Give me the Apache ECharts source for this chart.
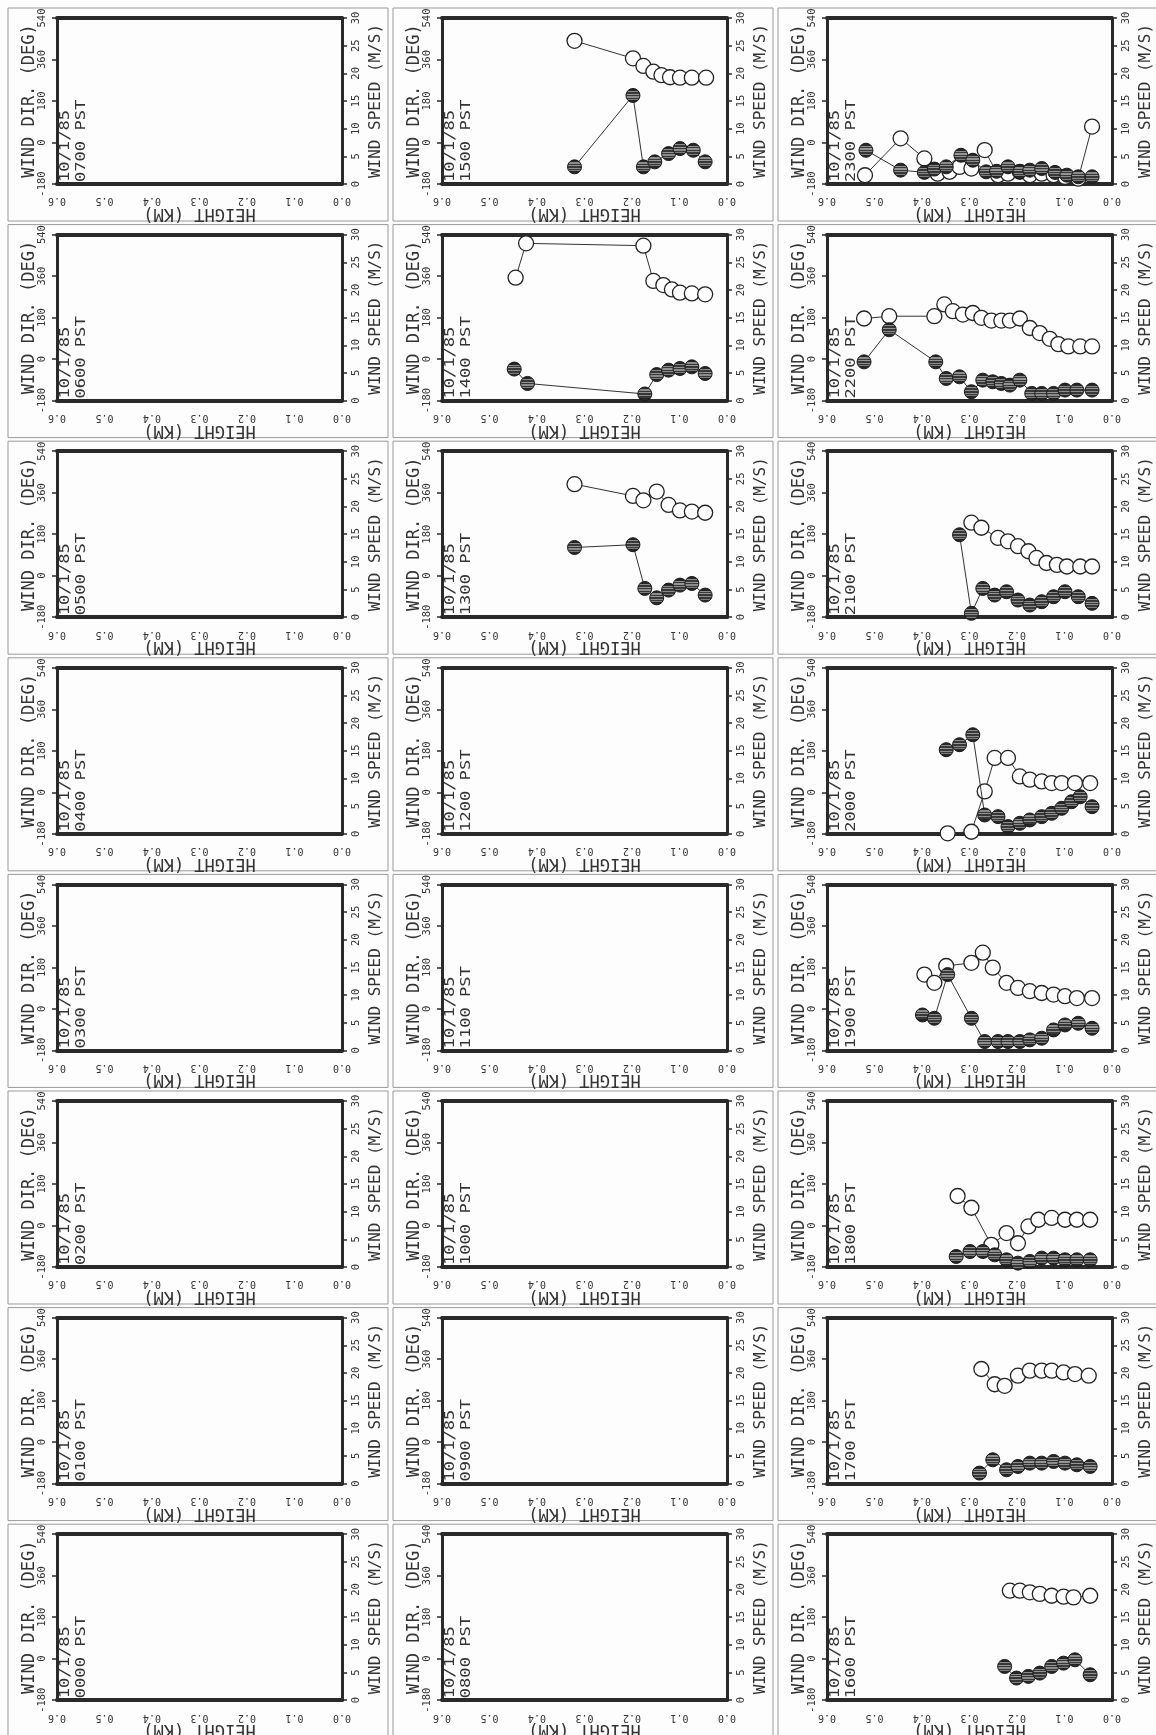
<!DOCTYPE html>
<html><head><meta charset="utf-8">
<script src="https://cdn.jsdelivr.net/npm/echarts@6/dist/echarts.min.js"></script>
<style>html,body{margin:0;padding:0;background:#fdfdfd}#c{width:1156px;height:1735px}</style>
</head><body><div id="c"></div>
<script>
// ---- data: [height km, value] ----
const panelTimes = [
  ['0700','0600','0500','0400','0300','0200','0100','0000'],
  ['1500','1400','1300','1200','1100','1000','0900','0800'],
  ['2300','2200','2100','2000','1900','1800','1700','1600']
];
const dateLabel = '10/1/85';
const heightTicks = [0, 0.1, 0.2, 0.3, 0.4, 0.5, 0.6];
const dirTicks = [-180, 0, 180, 360, 540];
const speedTicks = [0, 5, 10, 15, 20, 25, 30];

const dir_1300 = [[0.321,397],[0.198,346],[0.176,327],[0.148,365],[0.123,307],[0.099,283],[0.074,278],[0.046,273]];
const spd_1300 = [[0.321,12.6],[0.198,13.1],[0.173,5.2],[0.148,3.5],[0.123,4.9],[0.099,5.8],[0.074,6.1],[0.046,4.0]];
const dir_1400 = [[0.445,353],[0.423,502],[0.176,492],[0.155,339],[0.134,321],[0.116,302],[0.099,288],[0.074,285],[0.046,281]];
const spd_1400 = [[0.448,5.7],[0.420,3.1],[0.173,1.2],[0.148,4.7],[0.123,5.5],[0.099,5.8],[0.074,6.1],[0.046,4.9]];
const dir_1500 = [[0.321,441],[0.198,365],[0.176,332],[0.155,307],[0.138,292],[0.120,283],[0.099,281],[0.074,281],[0.044,281]];
const spd_1500 = [[0.321,3.1],[0.198,16.0],[0.176,3.1],[0.152,4.0],[0.123,5.5],[0.099,6.4],[0.071,6.1],[0.046,4.0]];
const dir_1600 = [[0.215,295],[0.194,295],[0.173,288],[0.152,281],[0.127,273],[0.102,269],[0.081,266],[0.046,273]];
const spd_1600 = [[0.226,6.1],[0.201,4.0],[0.176,4.3],[0.152,4.9],[0.127,6.1],[0.102,6.7],[0.078,7.3],[0.046,4.6]];
const dir_1700 = [[0.275,317],[0.247,251],[0.226,244],[0.198,288],[0.173,310],[0.148,310],[0.127,310],[0.102,302],[0.078,295],[0.049,288]];
const spd_1700 = [[0.279,1.9],[0.251,4.3],[0.222,2.5],[0.198,3.1],[0.173,3.7],[0.148,3.7],[0.123,4.0],[0.099,3.7],[0.074,3.4],[0.046,3.1]];
const dir_1800 = [[0.325,128],[0.296,77],[0.254,-84],[0.222,-33],[0.198,-77],[0.176,-4],[0.155,25],[0.127,33],[0.099,25],[0.074,25],[0.046,25]];
const spd_1800 = [[0.328,1.9],[0.299,2.8],[0.272,2.8],[0.247,2.2],[0.222,1.3],[0.198,0.7],[0.173,1.0],[0.148,1.6],[0.123,1.6],[0.099,1.3],[0.074,1.3],[0.046,1.3]];
const dir_1900 = [[0.395,149],[0.374,113],[0.349,186],[0.296,200],[0.272,244],[0.251,179],[0.222,113],[0.198,91],[0.173,77],[0.148,69],[0.123,62],[0.099,55],[0.074,47],[0.042,47]];
const spd_1900 = [[0.399,6.4],[0.374,5.8],[0.346,13.7],[0.296,5.8],[0.268,1.6],[0.240,1.6],[0.219,1.6],[0.194,1.6],[0.173,1.9],[0.148,2.2],[0.123,3.7],[0.099,4.6],[0.071,4.9],[0.042,4.0]];
const dir_2000 = [[0.346,-178],[0.296,-171],[0.268,4],[0.247,149],[0.219,149],[0.194,69],[0.173,55],[0.148,47],[0.127,40],[0.106,40],[0.078,40],[0.046,40]];
const spd_2000 = [[0.349,15.2],[0.321,16.1],[0.293,17.9],[0.268,3.4],[0.240,3.1],[0.219,1.3],[0.194,1.9],[0.173,2.5],[0.148,3.1],[0.127,3.7],[0.106,4.6],[0.085,5.8],[0.067,6.7],[0.042,4.9]];
const dir_2100 = [[0.296,230],[0.275,208],[0.240,164],[0.219,149],[0.198,128],[0.176,106],[0.159,77],[0.138,55],[0.116,47],[0.095,40],[0.067,40],[0.042,40]];
const spd_2100 = [[0.321,14.9],[0.296,0.7],[0.272,5.2],[0.247,4.0],[0.222,4.6],[0.198,3.1],[0.173,2.2],[0.148,2.8],[0.123,3.7],[0.099,4.6],[0.071,3.7],[0.042,2.5]];
const dir_2200 = [[0.522,176],[0.469,186],[0.374,186],[0.353,237],[0.335,208],[0.314,193],[0.293,200],[0.275,179],[0.254,167],[0.233,167],[0.215,167],[0.194,176],[0.173,135],[0.152,113],[0.131,88],[0.113,65],[0.092,55],[0.067,55],[0.042,55]];
const spd_2200 = [[0.522,7.0],[0.469,12.8],[0.371,7.0],[0.349,4.0],[0.321,4.3],[0.296,1.6],[0.272,3.7],[0.251,3.4],[0.233,3.1],[0.215,2.8],[0.194,3.7],[0.169,1.3],[0.148,1.3],[0.123,1.3],[0.099,1.9],[0.074,1.9],[0.042,1.9]];
const dir_2300 = [[0.520,-142],[0.445,18],[0.395,-69],[0.367,-135],[0.342,-127],[0.321,-106],[0.296,-113],[0.268,-33],[0.240,-142],[0.219,-135],[0.194,-127],[0.173,-142],[0.148,-135],[0.123,-142],[0.099,-149],[0.071,-157],[0.042,69]];
const spd_2300 = [[0.518,6.1],[0.445,2.5],[0.395,2.1],[0.374,2.7],[0.349,3.1],[0.318,5.2],[0.293,4.3],[0.265,2.2],[0.243,2.3],[0.219,3.1],[0.194,2.2],[0.173,2.5],[0.148,2.8],[0.120,2.1],[0.095,1.6],[0.071,1.3],[0.042,1.3]];

const profiles = {
  '1300':[dir_1300,spd_1300],'1400':[dir_1400,spd_1400],'1500':[dir_1500,spd_1500],
  '1600':[dir_1600,spd_1600],'1700':[dir_1700,spd_1700],'1800':[dir_1800,spd_1800],
  '1900':[dir_1900,spd_1900],'2000':[dir_2000,spd_2000],'2100':[dir_2100,spd_2100],
  '2200':[dir_2200,spd_2200],'2300':[dir_2300,spd_2300]
};

// ---- layout ----
const COL_X = 385, ROW_Y = 216.6, PL = 57, PT = 18, PW = 285, PH = 166;
const FONT = 'DejaVu Sans Mono';
const INK = '#2a2a2a';

const stripe = {type:'linear',x:0,y:0,x2:0,y2:1,colorStops:[
  {offset:0,color:'#262626'},{offset:0.2,color:'#262626'},{offset:0.2,color:'#8c8c8c'},{offset:0.28,color:'#8c8c8c'},
  {offset:0.28,color:'#383838'},{offset:0.38,color:'#383838'},{offset:0.38,color:'#959595'},{offset:0.46,color:'#959595'},
  {offset:0.46,color:'#383838'},{offset:0.56,color:'#383838'},{offset:0.56,color:'#8c8c8c'},{offset:0.64,color:'#8c8c8c'},
  {offset:0.64,color:'#383838'},{offset:0.74,color:'#383838'},{offset:0.74,color:'#7c7c7c'},{offset:0.8,color:'#7c7c7c'},
  {offset:0.8,color:'#262626'},{offset:1,color:'#262626'}]};

const grid=[], xAxis=[], yAxis=[], series=[], graphic=[];
let k = 0;
for (let c = 0; c < 3; c++) {
  for (let r = 0; r < 8; r++) {
    const t = panelTimes[c][r];
    const gl = PL + COL_X*c, gt = PT + ROW_Y*r;
    grid.push({left: gl, top: gt, width: PW, height: PH, outerBoundsMode:'none', containLabel:false});
    xAxis.push({type:'value', gridIndex:k, position:'bottom', min:heightTicks[0], max:heightTicks[heightTicks.length-1], interval:0.1, inverse:true,
      axisLine:{show:true, onZero:false, lineStyle:{color:INK, width:4}}, axisTick:{show:false}, splitLine:{show:false},
      axisLabel:{rotate:180, margin:12, fontSize:10, fontFamily:FONT, color:'#333', formatter:v=>v.toFixed(1)},
      name:'HEIGHT (KM)', nameLocation:'middle', nameRotate:180, nameGap:21, nameMoveOverlap:false,
      nameTextStyle:{fontSize:17, fontFamily:FONT, color:'#333'}});
    xAxis.push({type:'value', gridIndex:k, position:'top', min:0, max:0.6, inverse:true,
      axisLine:{show:true, onZero:false, lineStyle:{color:INK, width:4}}, axisTick:{show:false}, axisLabel:{show:false}, splitLine:{show:false}});
    yAxis.push({type:'value', gridIndex:k, position:'left', min:dirTicks[0], max:dirTicks[dirTicks.length-1], interval:180,
      axisLine:{show:true, onZero:false, lineStyle:{color:INK, width:3}}, axisTick:{show:true, length:5, lineStyle:{color:INK, width:1.5}}, splitLine:{show:false},
      axisLabel:{rotate:90, margin:9, fontSize:10.5, fontFamily:FONT, color:'#333'},
      name:'WIND DIR. (DEG)', nameLocation:'middle', nameGap:19, nameMoveOverlap:false,
      nameTextStyle:{fontSize:17, fontFamily:FONT, color:'#333'}});
    yAxis.push({type:'value', gridIndex:k, position:'right', min:speedTicks[0], max:speedTicks[speedTicks.length-1], interval:5,
      axisLine:{show:true, onZero:false, lineStyle:{color:INK, width:3}}, axisTick:{show:true, length:5, lineStyle:{color:INK, width:1.5}}, splitLine:{show:false},
      axisLabel:{rotate:90, margin:9, fontSize:10.5, fontFamily:FONT, color:'#333'},
      name:'WIND SPEED (M/S)', nameLocation:'middle', nameGap:26, nameMoveOverlap:false,
      nameTextStyle:{fontSize:16, fontFamily:FONT, color:'#333'}});
    const p = profiles[t];
    if (p) {
      series.push({type:'line', xAxisIndex:2*k, yAxisIndex:2*k, data:p[0], symbol:'circle', symbolSize:15, showAllSymbol:true,
        itemStyle:{color:'#fff', borderColor:'#222', borderWidth:1.3}, lineStyle:{color:'#333', width:1}, z:2, silent:true, animation:false});
      series.push({type:'line', xAxisIndex:2*k, yAxisIndex:2*k+1, data:p[1], symbol:'circle', symbolSize:14, showAllSymbol:true,
        itemStyle:{color:stripe, borderColor:'#1a1a1a', borderWidth:1}, lineStyle:{color:'#333', width:1}, z:3, silent:true, animation:false});
    }
    // panel frame
    graphic.push({type:'rect', shape:{x:8+COL_X*c, y:8+ROW_Y*r, width:380, height:213}, style:{fill:null, stroke:'#9a9a9a', lineWidth:1}, silent:true, z:0});
    // date/time label inside plot (rotated, slightly stretched along reading direction)
    graphic.push({type:'text', x:gl+8, y:gt+PH-2, rotation:Math.PI/2, scaleX:1.22, scaleY:1,
      style:{text:dateLabel, fontSize:14, fontFamily:FONT, fill:'#333', textAlign:'left', textVerticalAlign:'middle', align:'left', verticalAlign:'middle'}, silent:true, z:10});
    graphic.push({type:'text', x:gl+24, y:gt+PH-2, rotation:Math.PI/2, scaleX:1.22, scaleY:1,
      style:{text:t+' PST', fontSize:14, fontFamily:FONT, fill:'#333', textAlign:'left', textVerticalAlign:'middle', align:'left', verticalAlign:'middle'}, silent:true, z:10});
    k++;
  }
}

const chart = echarts.init(document.getElementById('c'), null, {renderer:'canvas'});
chart.setOption({backgroundColor:'#fdfdfd', animation:false, grid, xAxis, yAxis, series, graphic});
</script></body></html>
